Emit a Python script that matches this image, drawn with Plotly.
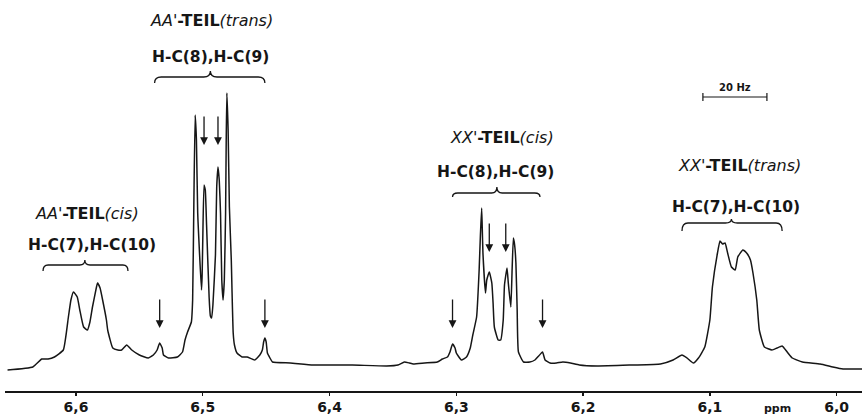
import plotly.graph_objects as go

ppm = [6.654, 6.634, 6.627, 6.622, 6.617, 6.610, 6.606, 6.604, 6.602, 6.599,
       6.597, 6.594, 6.591, 6.589, 6.587, 6.584, 6.583, 6.581, 6.579, 6.576,
       6.575, 6.571, 6.567, 6.564, 6.560, 6.556, 6.550, 6.543, 6.539, 6.536,
       6.534, 6.532, 6.531, 6.527, 6.520, 6.516, 6.514, 6.512, 6.509, 6.508,
       6.507, 6.506, 6.505, 6.504, 6.501, 6.5005, 6.500, 6.499, 6.498, 6.497,
       6.495, 6.494, 6.493, 6.492, 6.490, 6.489, 6.488, 6.487, 6.486, 6.485,
       6.484, 6.483, 6.482, 6.4815, 6.481, 6.480, 6.479, 6.4775, 6.477, 6.476,
       6.475, 6.473, 6.469, 6.465, 6.459, 6.455, 6.453, 6.452, 6.451, 6.450,
       6.449, 6.447, 6.445, 6.431, 6.413, 6.400, 6.382, 6.355, 6.346, 6.341,
       6.337, 6.334, 6.325, 6.315, 6.311, 6.307, 6.305, 6.303, 6.301, 6.300,
       6.296, 6.292, 6.289, 6.287, 6.284, 6.282, 6.281, 6.280, 6.2795, 6.279,
       6.277, 6.276, 6.274, 6.272, 6.271, 6.270, 6.267, 6.265, 6.263, 6.262,
       6.260, 6.259, 6.257, 6.256, 6.255, 6.254, 6.253, 6.252, 6.251, 6.247,
       6.242, 6.238, 6.235, 6.232, 6.230, 6.226, 6.221, 6.216, 6.210, 6.203,
       6.189, 6.161, 6.139, 6.129, 6.122, 6.118, 6.113, 6.109, 6.104, 6.100,
       6.098, 6.094, 6.092, 6.090, 6.088, 6.086, 6.083, 6.080, 6.078, 6.074,
       6.071, 6.068, 6.066, 6.063, 6.061, 6.057, 6.051, 6.047, 6.043, 6.039,
       6.035, 6.027, 6.013, 6.003, 5.995, 5.980]
intensity = [0, 3, 11, 11, 13, 20, 53, 70, 78, 73,
             60, 43, 40, 48, 63, 82, 87, 82, 70, 50,
             40, 22, 20, 20, 25, 20, 15, 12, 15, 20,
             27, 22, 15, 12, 13, 18, 30, 38, 48, 70,
             170, 255, 230, 157, 80, 95, 130, 185, 180, 145,
             73, 54, 52, 65, 115, 183, 203, 190, 157, 90,
             70, 90, 157, 230, 277, 240, 163, 110, 83, 37,
             25, 17, 13, 13, 10, 15, 20, 28, 32, 28,
             17, 12, 8, 7, 5, 5, 5, 4, 5, 8,
             7, 6, 7, 8, 11, 13, 18, 26, 22, 17,
             10, 13, 22, 35, 53, 100, 135, 162, 140, 117,
             77, 90, 98, 87, 67, 43, 30, 30, 50, 85,
             102, 87, 63, 100, 132, 125, 107, 60, 18, 8,
             8, 10, 14, 18, 10, 7, 7, 8, 7, 5,
             4, 5, 6, 10, 15, 12, 7, 12, 23, 50,
             83, 117, 129, 126, 127, 117, 103, 100, 113, 120,
             117, 110, 97, 70, 40, 23, 20, 22, 24, 18,
             12, 8, 6, 3, 1, 1]

tick_vals = [6.6, 6.5, 6.4, 6.3, 6.2, 6.1, 6.0]
tick_text = ["6,6", "6,5", "6,4", "6,3", "6,2", "6,1", "6,0"]

# marked satellite / peak positions (ppm) and intensity of arrow tips
arrow_ppm = [6.534, 6.451, 6.499, 6.488, 6.303, 6.232, 6.274, 6.261]
arrow_tip = [42, 42, 225, 225, 42, 42, 118, 118]

# group labels: (centre ppm, intensity) for title / assignment / brace
group_title = ["<i>AA'</i><b>-TEIL</b><i>(trans)</i>", "<i>AA'</i><b>-TEIL</b><i>(cis)</i>",
               "<i>XX'</i><b>-TEIL</b><i>(cis)</i>", "<i>XX'</i><b>-TEIL</b><i>(trans)</i>"]
group_assign = ["H-C(8),H-C(9)", "H-C(7),H-C(10)", "H-C(8),H-C(9)", "H-C(7),H-C(10)"]
title_pos = [(6.493, 350), (6.591, 157), (6.264, 233), (6.077, 205)]
assign_pos = [(6.494, 313), (6.587, 125), (6.269, 198), (6.079, 163)]
# brace: left ppm, right ppm, centre ppm, line level, end level, tip level
braces = [(6.538, 6.451, 6.494, 293, 287, 299),
          (6.626, 6.559, 6.593, 105, 99, 110),
          (6.303, 6.234, 6.268, 177, 173, 183),
          (6.122, 6.043, 6.083, 147, 139, 151)]
scale_bar = (6.1055, 6.055, 273)  # 20 Hz

FONT = "DejaVu Sans"
INK = "#161616"

fig = go.Figure()
fig.add_trace(go.Scatter(x=ppm, y=intensity, mode="lines",
                         line=dict(color=INK, width=1.5, shape="spline", smoothing=0.4),
                         hoverinfo="skip"))

ann = []
for (t, (xp, yp)) in zip(group_title, title_pos):
    ann.append(dict(x=xp, y=yp, text=t, showarrow=False,
                    font=dict(family=FONT, size=16, color=INK)))
for (t, (xp, yp)) in zip(group_assign, assign_pos):
    ann.append(dict(x=xp, y=yp, text="<b>" + t + "</b>", showarrow=False,
                    font=dict(family=FONT, size=15.5, color=INK)))
for xp, yt in zip(arrow_ppm, arrow_tip):
    ann.append(dict(x=xp, y=yt, ax=0, ay=-30, text="", showarrow=True,
                    arrowhead=2, arrowsize=1.2, arrowwidth=1.3, arrowcolor=INK))
ann.append(dict(x=(scale_bar[0] + scale_bar[1]) / 2, y=scale_bar[2] + 10,
                text="<b>20 Hz</b>", showarrow=False,
                font=dict(family=FONT, size=10, color=INK)))
ann.append(dict(x=6.047, xref="x", y=-0.045, yref="paper", yanchor="middle",
                text="<b>ppm</b>", showarrow=False,
                font=dict(family=FONT, size=11, color=INK)))

shapes = []
for (x1, x2, xc, yl, yb, yt) in braces:
    d = (x1 - x2) * 0.06
    path = (f"M {x1},{yb} Q {x1},{yl} {x1 - d},{yl} L {xc + d},{yl} "
            f"Q {xc},{yl} {xc},{yt} Q {xc},{yl} {xc - d},{yl} "
            f"L {x2 + d},{yl} Q {x2},{yl} {x2},{yb}")
    shapes.append(dict(type="path", path=path, xref="x", yref="y",
                       line=dict(color=INK, width=1.3)))
sx1, sx2, sy = scale_bar
shapes.append(dict(type="line", x0=sx1, x1=sx2, y0=sy, y1=sy, xref="x", yref="y",
                   line=dict(color=INK, width=1.2)))
for sx in (sx1, sx2):
    shapes.append(dict(type="line", x0=sx, x1=sx, y0=sy - 4, y1=sy + 4,
                       xref="x", yref="y", line=dict(color=INK, width=1.2)))

fig.update_layout(
    width=862, height=417,
    margin=dict(l=5, r=0, t=0, b=26),
    paper_bgcolor="white", plot_bgcolor="white",
    showlegend=False,
    annotations=ann, shapes=shapes,
    xaxis=dict(range=[6.656, 5.980], tickvals=tick_vals, ticktext=tick_text,
               automargin=False,
               showgrid=False, zeroline=False, showline=True, linecolor=INK,
               linewidth=1.6, ticks="outside", ticklen=3, tickwidth=1.4,
               tickcolor=INK,
               tickfont=dict(family=FONT, size=14, color=INK, weight="bold")),
    yaxis=dict(range=[-21, 370], visible=False, showgrid=False, zeroline=False,
               automargin=False),
)

fig.write_html("out.html",
               config={"displayModeBar": False, "staticPlot": True},
               post_script="document.body.style.margin='0';"
                           "document.body.style.overflow='hidden';")
